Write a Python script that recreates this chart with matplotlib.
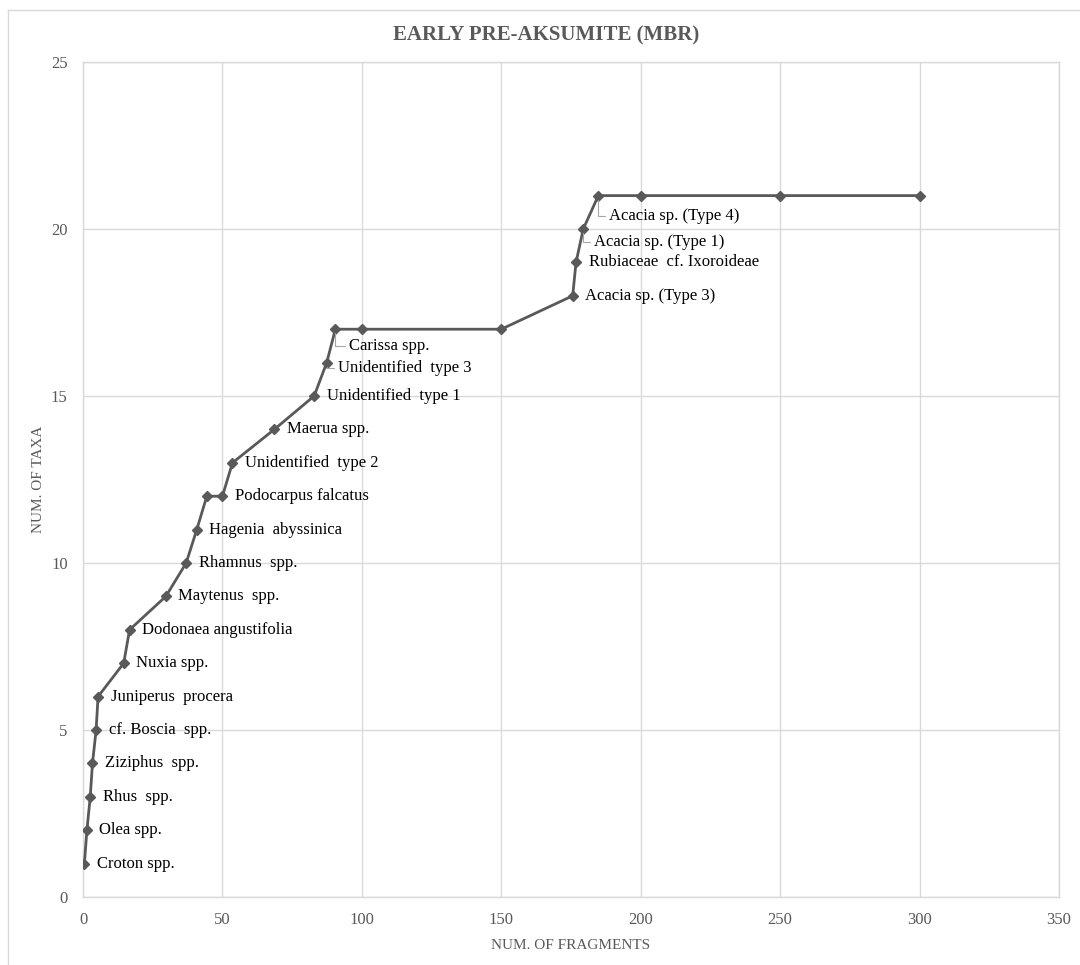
import matplotlib
matplotlib.use("Agg")
import matplotlib.pyplot as plt
from matplotlib.lines import Line2D

# --- Data ---
fragments = [0.5, 1.4, 2.6, 3.4, 4.7, 5.4, 14.6, 16.7, 29.7, 37, 40.8, 44.4, 50,
             53.6, 68.6, 82.9, 87.4, 90.5, 100, 150, 175.6, 176.8, 179.4, 184.8,
             200, 250, 300]
taxa = [1, 2, 3, 4, 5, 6, 7, 8, 9, 10, 11, 12, 12,
        13, 14, 15, 16, 17, 17, 17, 18, 19, 20, 21,
        21, 21, 21]
labels = ["Croton spp.", "Olea spp.", "Rhus  spp.", "Ziziphus  spp.", "cf. Boscia  spp.",
          "Juniperus  procera", "Nuxia spp.", "Dodonaea angustifolia", "Maytenus  spp.",
          "Rhamnus  spp.", "Hagenia  abyssinica", None, "Podocarpus falcatus",
          "Unidentified  type 2", "Maerua spp.", "Unidentified  type 1",
          "Unidentified  type 3", "Carissa spp.", None, None,
          "Acacia sp. (Type 3)", "Rubiaceae  cf. Ixoroideae", "Acacia sp. (Type 1)",
          "Acacia sp. (Type 4)", None, None, None]

x_ticks = [0, 50, 100, 150, 200, 250, 300, 350]
y_ticks = [0, 5, 10, 15, 20, 25]

# label offsets in points (default: to the right of the marker)
DEFAULT_OFFSET = (9, 0)
LEADER_OFFSETS = {
    "Carissa spp.": (10, -12),
    "Unidentified  type 3": (8, -4),
    "Acacia sp. (Type 1)": (8, -9),
    "Acacia sp. (Type 4)": (8, -15),
}

GRAY = "#595959"
GRID = "#d9d9d9"
SERIF = ["Liberation Serif", "DejaVu Serif"]

W, H = 1080, 965
fig = plt.figure(figsize=(W / 100, H / 100), dpi=100)
ax = fig.add_axes([83 / W, 1 - 897 / H, (1059 - 83) / W, (897 - 62) / H])

ax.plot(fragments, taxa, color=GRAY, linewidth=2.0, marker="D", markersize=5,
        markerfacecolor=GRAY, markeredgecolor=GRAY, zorder=3)

for x, y, lab in zip(fragments, taxa, labels):
    if lab is None:
        continue
    if lab in LEADER_OFFSETS:
        ax.annotate(lab, xy=(x, y), xytext=LEADER_OFFSETS[lab], textcoords="offset points",
                    ha="left", va="center", fontsize=12, family=SERIF, color="black",
                    arrowprops=dict(arrowstyle="-", color="#a6a6a6", lw=0.8,
                                    connectionstyle="angle,angleA=0,angleB=90,rad=0",
                                    relpos=(0, 0.5), shrinkA=1, shrinkB=3))
    else:
        ax.annotate(lab, xy=(x, y), xytext=DEFAULT_OFFSET, textcoords="offset points",
                    ha="left", va="center", fontsize=12, family=SERIF, color="black")

ax.set_xlim(0, 350)
ax.set_ylim(0, 25)
ax.set_xticks(x_ticks)
ax.set_yticks(y_ticks)
ax.grid(True, color=GRID, linewidth=1.0, zorder=0)
ax.set_axisbelow(True)
for s in ax.spines.values():
    s.set_color(GRID)
    s.set_linewidth(1.0)
ax.tick_params(length=0, colors=GRAY, labelsize=12, pad=11)
for t in ax.get_xticklabels() + ax.get_yticklabels():
    t.set_family(SERIF)

ax.set_xlabel("NUM. OF FRAGMENTS", fontsize=11, family=SERIF, color=GRAY, labelpad=8)
ax.set_ylabel("NUM. OF TAXA", fontsize=11, family=SERIF, color=GRAY, labelpad=4)

fig.text(546 / W, 1 - 35 / H, "EARLY PRE-AKSUMITE (MBR)", ha="center", va="center",
         fontsize=15, fontweight="bold", family=SERIF, color=GRAY)

# chart border (cropped on the right and bottom in the reference)
fig.add_artist(Line2D([8 / W, 8 / W], [0, 1 - 10 / H], transform=fig.transFigure,
                      color=GRID, linewidth=1.0))
fig.add_artist(Line2D([8 / W, 1], [1 - 10 / H, 1 - 10 / H], transform=fig.transFigure,
                      color=GRID, linewidth=1.0))

fig.savefig("out.png", dpi=100)
